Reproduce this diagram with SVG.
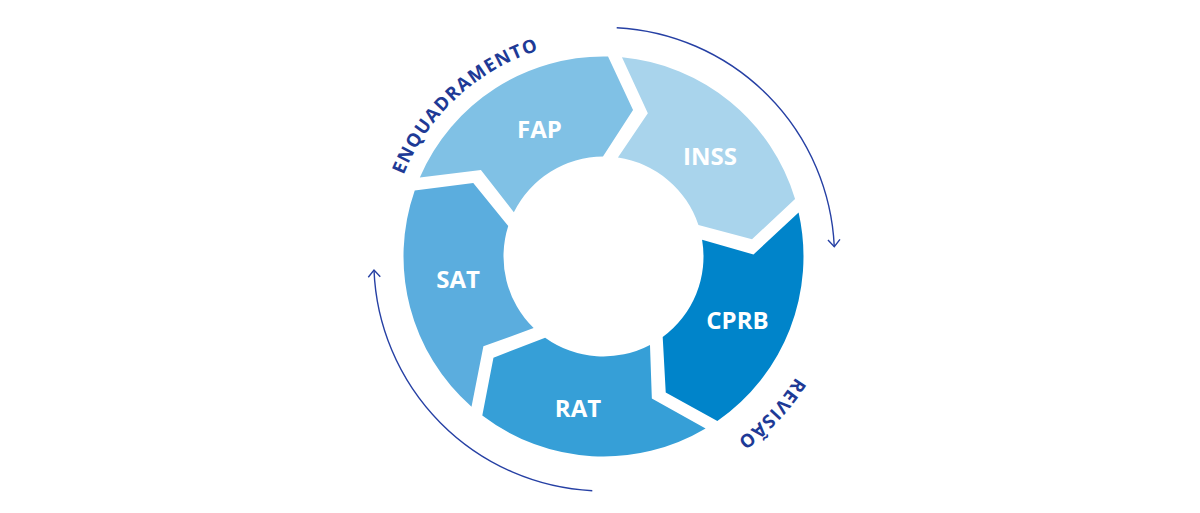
<svg xmlns="http://www.w3.org/2000/svg" xmlns:xlink="http://www.w3.org/1999/xlink" width="1200" height="513" viewBox="0 0 1200 513">
<style>
.seg-label{font-family:"Open Sans","Liberation Sans",sans-serif;font-weight:700;font-size:24px;fill:#ffffff;text-anchor:middle}
.arc-label{font-family:"Open Sans","Liberation Sans",sans-serif;font-weight:700;font-size:18.5px;fill:#1e3a96;letter-spacing:1.3px}
.flow{fill:none;stroke:#2640a4;stroke-width:1.4}
</style>
<defs>
<path id="seg" d="M419.82,177.40 A200,200 0 0 1 608.04,56.55 L633.05,109.95 L602.98,156.50 A100,100 0 0 0 513.85,212.19 L480.93,170.04 Z"/>
<path id="arcTop" d="M389.35,228.31 A216,216 0 0 1 594.08,40.71" fill="none"/>
<path id="arcBottom" d="M824.59,307.95 A227,227 0 0 1 669.49,473.70" fill="none"/>
<marker id="arrow" markerUnits="userSpaceOnUse" markerWidth="20" markerHeight="20" refX="10" refY="10" orient="auto" viewBox="0 0 20 20">
<path d="M3,4 L10,10 L3,16" fill="none" stroke="#2640a4" stroke-width="1.4"/>
</marker>
</defs>
<rect width="1200" height="513" fill="#ffffff"/>
<g id="fap">
<use xlink:href="#seg" href="#seg" fill="#80c1e5"/>
<text class="seg-label" x="539.5" y="138">FAP</text>
</g>
<g id="inss">
<use xlink:href="#seg" href="#seg" fill="#a9d4ec" transform="rotate(72 603.5 256.5)"/>
<text class="seg-label" x="710" y="165">INSS</text>
</g>
<g id="cprb">
<use xlink:href="#seg" href="#seg" fill="#0084ca" transform="rotate(144 603.5 256.5)"/>
<text class="seg-label" x="737.5" y="329">CPRB</text>
</g>
<g id="rat">
<use xlink:href="#seg" href="#seg" fill="#369fd7" transform="rotate(216 603.5 256.5)"/>
<text class="seg-label" x="578" y="416.5">RAT</text>
</g>
<g id="sat">
<use xlink:href="#seg" href="#seg" fill="#5badde" transform="rotate(288 603.5 256.5)"/>
<text class="seg-label" x="458" y="288">SAT</text>
</g>
<g id="enquadramento">
<text class="arc-label"><textPath xlink:href="#arcTop" href="#arcTop" startOffset="50%" text-anchor="middle">ENQUADRAMENTO</textPath></text>
</g>
<g id="revisao">
<text class="arc-label"><textPath xlink:href="#arcBottom" href="#arcBottom" startOffset="50%" text-anchor="middle">REVISÃO</textPath></text>
</g>
<g id="connectors">
<path class="flow" d="M616.7,27.7 A230,230 0 0 1 834.3,246.7" marker-end="url(#arrow)"/>
<path class="flow" d="M592.3,490.7 A230,230 0 0 1 374,270" marker-end="url(#arrow)"/>
</g>
</svg>
